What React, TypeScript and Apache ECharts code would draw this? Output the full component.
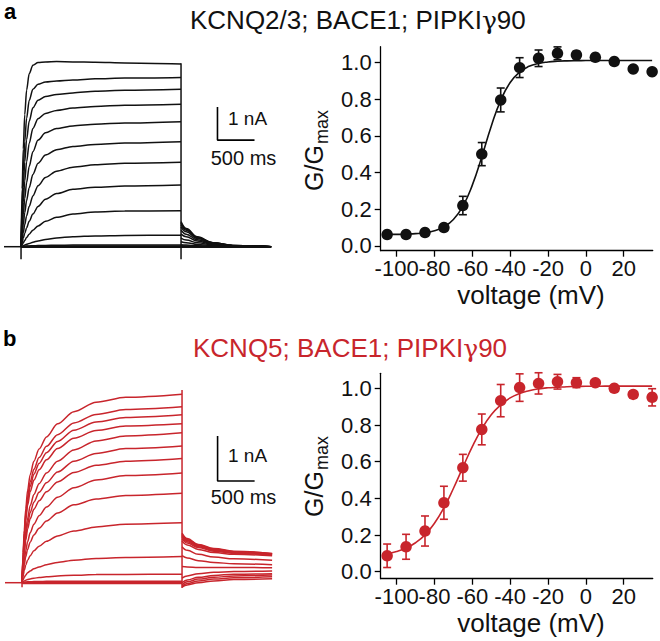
import React, { useEffect, useRef } from "react";
import * as echarts from "echarts";

const FONT = "'Liberation Sans', Arial, Helvetica, sans-serif";
const BLACK = "#111111";
const RED = "#c8252c";

// ---------- current traces (time in ms, current in nA) ----------
const preStepStartMs = -230;
const stepTimesMs = [0, 15, 30, 50, 75, 110, 160, 230, 330, 480, 700, 1000, 1400, 2160];
const tailTimesMs = [2160, 2230, 2380, 2590, 2860, 3376];

const kcnq23Step = [
  [0, 1.75, 2.96, 4.0, 4.74, 5.24, 5.5, 5.58, 5.6, 5.61, 5.6, 5.59, 5.57, 5.54],
  [0, 1.31, 2.28, 3.18, 3.89, 4.43, 4.77, 4.92, 4.99, 5.02, 5.05, 5.09, 5.11, 5.13],
  [0, 1.01, 1.8, 2.57, 3.24, 3.8, 4.21, 4.44, 4.55, 4.61, 4.66, 4.71, 4.74, 4.77],
  [0, 0.74, 1.35, 1.99, 2.57, 3.13, 3.58, 3.88, 4.04, 4.13, 4.2, 4.25, 4.29, 4.32],
  [0, 0.53, 0.97, 1.46, 1.94, 2.43, 2.88, 3.23, 3.45, 3.58, 3.66, 3.71, 3.75, 3.79],
  [0, 0.36, 0.67, 1.03, 1.4, 1.79, 2.19, 2.53, 2.78, 2.94, 3.04, 3.1, 3.14, 3.18],
  [0, 0.23, 0.43, 0.67, 0.93, 1.22, 1.54, 1.85, 2.1, 2.29, 2.41, 2.48, 2.53, 2.56],
  [0, 0.13, 0.26, 0.4, 0.57, 0.77, 0.99, 1.22, 1.44, 1.61, 1.74, 1.8, 1.84, 1.87],
  [0, 0.06, 0.12, 0.19, 0.28, 0.38, 0.5, 0.63, 0.77, 0.89, 0.99, 1.05, 1.08, 1.09],
  [0, 0.016, 0.031, 0.05, 0.072, 0.1, 0.135, 0.176, 0.22, 0.265, 0.303, 0.328, 0.342, 0.35],
  [0, 0.005, 0.01, 0.015, 0.02, 0.025, 0.03, 0.035, 0.04, 0.045, 0.05, 0.05, 0.05, 0.05],
  [0, 0, 0.005, 0.01, 0.01, 0.015, 0.015, 0.02, 0.02, 0.02, 0.02, 0.02, 0.02, 0.02],
  [0, 0, 0, 0, 0, 0, 0, 0, 0, 0, 0, 0, 0, 0],
  [0, -0.01, -0.01, -0.01, -0.01, -0.01, -0.01, -0.01, -0.01, -0.01, -0.01, -0.01, -0.01, -0.01],
  [0, -0.02, -0.02, -0.02, -0.02, -0.02, -0.02, -0.02, -0.02, -0.02, -0.02, -0.02, -0.02, -0.02],
];
const kcnq23Tail = [
  [0.76, 0.55, 0.3, 0.12, 0.04, 0.0],
  [0.72, 0.53, 0.29, 0.12, 0.04, 0.0],
  [0.67, 0.5, 0.27, 0.11, 0.04, 0.0],
  [0.6, 0.45, 0.25, 0.1, 0.03, 0.0],
  [0.5, 0.38, 0.21, 0.09, 0.03, 0.0],
  [0.38, 0.3, 0.17, 0.07, 0.02, 0.0],
  [0.26, 0.2, 0.12, 0.05, 0.02, 0.0],
  [0.15, 0.12, 0.07, 0.03, 0.01, 0.0],
  [0.06, 0.05, 0.03, 0.01, 0.0, 0.0],
  [0.02, 0.01, 0.01, 0.0, 0.0, 0.0],
  [0.02, 0.01, 0.0, 0.0, 0.0, 0.0],
  [0.01, 0.0, 0.0, 0.0, 0.0, 0.0],
  [0, 0, 0, 0, 0, 0],
  [-0.01, -0.01, 0, 0, 0, 0],
  [-0.02, -0.01, -0.01, 0, 0, 0],
];

const kcnq5Step = [
  [0, 0.67, 1.17, 1.64, 2.05, 2.4, 2.7, 2.97, 3.24, 3.53, 3.8, 4.01, 4.12, 4.19],
  [0, 0.62, 1.09, 1.53, 1.91, 2.24, 2.52, 2.78, 3.03, 3.29, 3.55, 3.74, 3.85, 3.91],
  [0, 0.59, 1.04, 1.46, 1.82, 2.14, 2.41, 2.65, 2.89, 3.14, 3.39, 3.57, 3.67, 3.73],
  [0, 0.56, 0.98, 1.38, 1.72, 2.02, 2.28, 2.51, 2.73, 2.98, 3.21, 3.38, 3.48, 3.53],
  [0, 0.45, 0.8, 1.14, 1.43, 1.71, 1.96, 2.2, 2.44, 2.7, 2.95, 3.15, 3.26, 3.33],
  [0, 0.41, 0.73, 1.04, 1.31, 1.56, 1.79, 2.01, 2.22, 2.46, 2.7, 2.87, 2.98, 3.04],
  [0, 0.38, 0.66, 0.94, 1.19, 1.42, 1.63, 1.82, 2.02, 2.24, 2.45, 2.61, 2.7, 2.76],
  [0, 0.27, 0.49, 0.71, 0.91, 1.11, 1.3, 1.49, 1.68, 1.9, 2.11, 2.28, 2.38, 2.44],
  [0, 0.22, 0.4, 0.58, 0.74, 0.9, 1.06, 1.21, 1.37, 1.55, 1.73, 1.86, 1.94, 1.99],
  [0, 0.15, 0.27, 0.39, 0.5, 0.6, 0.71, 0.81, 0.92, 1.04, 1.15, 1.24, 1.3, 1.33],
  [0, 0.065, 0.12, 0.17, 0.22, 0.26, 0.31, 0.35, 0.4, 0.45, 0.5, 0.54, 0.56, 0.58],
  [0, 0.02, 0.04, 0.055, 0.07, 0.085, 0.1, 0.115, 0.13, 0.15, 0.165, 0.18, 0.185, 0.19],
  [0, 0.005, 0.01, 0.015, 0.02, 0.02, 0.025, 0.025, 0.03, 0.03, 0.03, 0.03, 0.03, 0.03],
  [0, 0, 0.005, 0.01, 0.01, 0.01, 0.01, 0.01, 0.01, 0.01, 0.01, 0.01, 0.01, 0.01],
  [0, -0.02, -0.02, -0.02, -0.02, -0.02, -0.02, -0.02, -0.02, -0.02, -0.02, -0.02, -0.02, -0.02],
];
const kcnq5Tail = [
  [1.1, 0.98, 0.85, 0.76, 0.7, 0.65],
  [1.08, 0.96, 0.84, 0.75, 0.69, 0.645],
  [1.06, 0.95, 0.83, 0.74, 0.68, 0.64],
  [1.04, 0.93, 0.82, 0.73, 0.675, 0.635],
  [1.02, 0.91, 0.8, 0.72, 0.67, 0.63],
  [0.98, 0.88, 0.78, 0.7, 0.65, 0.615],
  [0.93, 0.84, 0.74, 0.67, 0.63, 0.6],
  [0.8, 0.72, 0.63, 0.57, 0.53, 0.5],
  [0.6, 0.55, 0.49, 0.45, 0.42, 0.4],
  [0.36, 0.35, 0.34, 0.34, 0.34, 0.33],
  [0.1, 0.15, 0.2, 0.23, 0.25, 0.26],
  [0.0, 0.06, 0.12, 0.16, 0.19, 0.2],
  [-0.05, 0.02, 0.08, 0.12, 0.15, 0.17],
  [-0.08, -0.02, 0.04, 0.08, 0.11, 0.13],
  [-0.1, -0.05, 0.0, 0.04, 0.07, 0.09],
];

// stimulus artefacts at step onset / offset [time, from nA, to nA]
const kcnq23Artefacts = [
  [0, -0.38, 0.25],
  [2160, -0.38, 5.56],
];
const kcnq5Artefacts = [
  [0, -0.1, 0.13],
  [2160, -0.12, 4.28],
];

// scale bars: 500 ms, 1 nA  (anchor time, anchor current)
const scaleBarMs = 500;
const scaleBarNa = 1;
const kcnq23ScaleAnchor = [2652, 3.23];
const kcnq5ScaleAnchor = [2640, 2.26];

// ---------- G/Gmax vs voltage ----------
const voltages = [-105, -95, -85, -75, -65, -55, -45, -35, -25, -15, -5, 5, 15, 25, 35];
const gvKcnq23 = [0.062, 0.062, 0.073, 0.1, 0.22, 0.5, 0.795, 0.971, 1.022, 1.049, 1.04, 1.027, 1.004, 0.964, 0.949];
const semKcnq23 = [0.008, 0.008, 0.01, 0.015, 0.05, 0.063, 0.065, 0.054, 0.045, 0.035, 0.02, 0.01, 0.008, 0.01, 0.01];
const gvKcnq5 = [0.087, 0.136, 0.222, 0.376, 0.567, 0.776, 0.933, 1.004, 1.027, 1.036, 1.031, 1.031, 1.0, 0.967, 0.951];
const semKcnq5 = [0.064, 0.068, 0.082, 0.09, 0.073, 0.084, 0.088, 0.075, 0.058, 0.04, 0.027, 0.01, 0.01, 0.018, 0.047];

// fitted Boltzmann curves, read every 5 mV
const fitVoltages = [
  -105, -100, -95, -90, -85, -80, -75, -70, -65, -60, -55, -50, -45, -40, -35,
  -30, -25, -20, -15, -10, -5, 0, 5, 10, 15, 20, 25, 30, 35,
];
const fitKcnq23 = [
  0.063, 0.063, 0.065, 0.067, 0.072, 0.083, 0.104, 0.144, 0.216, 0.331, 0.485, 0.652, 0.793, 0.89, 0.947,
  0.978, 0.994, 1.002, 1.006, 1.008, 1.009, 1.0095, 1.01, 1.01, 1.01, 1.01, 1.01, 1.01, 1.01,
];
const fitKcnq5 = [
  0.099, 0.11, 0.129, 0.158, 0.201, 0.264, 0.349, 0.454, 0.569, 0.682, 0.779, 0.856, 0.91, 0.948, 0.972,
  0.987, 0.997, 1.003, 1.006, 1.009, 1.01, 1.011, 1.011, 1.012, 1.012, 1.012, 1.012, 1.012, 1.012,
];

const voltageTicks = [-100, -80, -60, -40, -20, 0, 20];
const gTicks = [0, 0.2, 0.4, 0.6, 0.8, 1.0];

const titleA = ["KCNQ2/3; BACE1; PIPKI", "\u03b3", "90"];
const titleB = ["KCNQ5; BACE1; PIPKI", "\u03b3", "90"];

function traceSeries(stepRows: number[][], tailRows: number[][], artefacts: number[][], anchor: number[], idx: number, color: string) {
  const base = {
    type: "line",
    xAxisIndex: idx,
    yAxisIndex: idx,
    symbol: "none",
    silent: true,
    lineStyle: { color, width: 1.5 },
  };
  const out: any[] = [];
  out.push({ ...base, data: [[preStepStartMs, 0], [0, 0]] });
  stepRows.forEach((row) => {
    out.push({ ...base, smooth: 0.3, smoothMonotone: "x", data: stepTimesMs.map((t, i) => [t, row[i]]) });
  });
  tailRows.forEach((row) => {
    out.push({ ...base, smooth: 0.4, smoothMonotone: "x", data: tailTimesMs.map((t, i) => [t, row[i]]) });
  });
  artefacts.forEach((a) => {
    out.push({ ...base, data: [[a[0], a[1]], [a[0], a[2]]] });
  });
  out.push({
    ...base,
    lineStyle: { color: "#000", width: 1.6 },
    data: [
      [anchor[0], anchor[1] + scaleBarNa],
      [anchor[0], anchor[1]],
      [anchor[0] + scaleBarMs, anchor[1]],
    ],
  });
  return out;
}

function gvSeries(gv: number[], sem: number[], fit: number[], idx: number, color: string) {
  return [
    {
      type: "line",
      xAxisIndex: idx,
      yAxisIndex: idx,
      symbol: "none",
      smooth: true,
      z: 2,
      lineStyle: { color, width: 1.6 },
      data: fitVoltages.map((v, i) => [v, fit[i]]),
    },
    {
      type: "custom",
      xAxisIndex: idx,
      yAxisIndex: idx,
      z: 3,
      encode: { x: 0, y: [1, 2] },
      data: voltages.map((v, i) => [v, gv[i] - sem[i], gv[i] + sem[i]]),
      renderItem: (params: any, api: any) => {
        const x = api.value(0);
        const lo = api.coord([x, api.value(1)]);
        const hi = api.coord([x, api.value(2)]);
        const w = 4;
        const st = { stroke: color, lineWidth: 1.6 };
        return {
          type: "group",
          children: [
            { type: "line", shape: { x1: lo[0], y1: lo[1], x2: hi[0], y2: hi[1] }, style: st },
            { type: "line", shape: { x1: lo[0] - w, y1: lo[1], x2: lo[0] + w, y2: lo[1] }, style: st },
            { type: "line", shape: { x1: hi[0] - w, y1: hi[1], x2: hi[0] + w, y2: hi[1] }, style: st },
          ],
        };
      },
    },
    {
      type: "scatter",
      xAxisIndex: idx,
      yAxisIndex: idx,
      z: 4,
      symbolSize: 11.5,
      itemStyle: { color, opacity: 1 },
      data: voltages.map((v, i) => [v, gv[i]]),
    },
  ];
}

function gvXAxis(idx: number) {
  return {
    gridIndex: idx,
    type: "value",
    min: -108.4,
    max: 35.3,
    axisLine: { show: true, onZero: false, lineStyle: { color: "#000", width: 1.3 } },
    axisTick: { show: true, length: 6, customValues: voltageTicks, lineStyle: { color: "#000", width: 1.3 } },
    axisLabel: { customValues: voltageTicks, fontSize: 22, color: "#111", margin: 7, fontFamily: FONT },
    splitLine: { show: false },
  };
}

function gvYAxis(idx: number, min: number, max: number) {
  return {
    gridIndex: idx,
    type: "value",
    min,
    max,
    axisLine: { show: true, onZero: false, lineStyle: { color: "#000", width: 1.3 } },
    axisTick: { show: true, length: 6, customValues: gTicks, lineStyle: { color: "#000", width: 1.3 } },
    axisLabel: {
      customValues: gTicks,
      fontSize: 22,
      color: "#111",
      margin: 9,
      fontFamily: FONT,
      formatter: (v: number) => v.toFixed(1),
    },
    splitLine: { show: false },
  };
}

function hiddenAxis(idx: number, min: number, max: number) {
  return { gridIndex: idx, type: "value", min, max, show: false, splitLine: { show: false } };
}

function txt(x: number, y: number, text: string, size: number, color: string, align = "left", weight = "normal") {
  return {
    type: "text",
    x,
    y,
    silent: true,
    style: {
      text,
      fill: color,
      fontSize: size,
      fontWeight: weight,
      fontFamily: FONT,
      align,
      textAlign: align,
      verticalAlign: "middle",
      textVerticalAlign: "middle",
    },
  };
}

function title(x: number, y: number, parts: string[], size: number, color: string) {
  return {
    type: "text",
    x,
    y,
    silent: true,
    style: {
      text: `{n|${parts[0]}}{g|${parts[1]}}{n|${parts[2]}}`,
      align: "left",
      textAlign: "left",
      verticalAlign: "middle",
      textVerticalAlign: "middle",
      rich: {
        n: { fontSize: size, fontFamily: FONT, fill: color, color },
        g: { fontSize: size - 1, fontFamily: "'DejaVu Serif', serif", fill: color, color },
      },
    },
  };
}

function gLabel(x: number, y: number) {
  return {
    type: "group",
    x,
    y,
    rotation: Math.PI / 2,
    silent: true,
    children: [txt(-41, 0, "G/G", 25, "#111"), txt(6, 8, "max", 18, "#111")],
  };
}

export default function App() {
  const ref = useRef<HTMLDivElement>(null);
  useEffect(() => {
    if (!ref.current) return;
    const chart = echarts.init(ref.current, null, { renderer: "svg" });
    const option: any = {
      animation: false,
      backgroundColor: "#ffffff",
      textStyle: { fontFamily: FONT },
      grid: [
        { left: 4, top: 48.7, width: 267.4, height: 214.5 },
        { left: 380.7, top: 46.7, width: 272, height: 204 },
        { left: 5, top: 380.2, width: 267.4, height: 225 },
        { left: 380.7, top: 373.3, width: 272, height: 205.4 },
      ],
      xAxis: [hiddenAxis(0, -230, 3380), gvXAxis(1), hiddenAxis(2, -230, 3380), gvXAxis(3)],
      yAxis: [
        hiddenAxis(0, -0.5, 6.0),
        gvYAxis(1, -0.026, 1.085),
        hiddenAxis(2, -0.5, 4.5),
        gvYAxis(3, -0.038, 1.082),
      ],
      series: [
        ...traceSeries(kcnq23Step, kcnq23Tail, kcnq23Artefacts, kcnq23ScaleAnchor, 0, BLACK),
        ...traceSeries(kcnq5Step, kcnq5Tail, kcnq5Artefacts, kcnq5ScaleAnchor, 2, RED),
        ...gvSeries(gvKcnq23, semKcnq23, fitKcnq23, 1, BLACK),
        ...gvSeries(gvKcnq5, semKcnq5, fitKcnq5, 3, RED),
      ],
      graphic: [
        txt(4, 11, "a", 22, "#000", "left", "bold"),
        txt(3, 338, "b", 22, "#000", "left", "bold"),
        title(190, 20, titleA, 26, "#111"),
        title(193, 348, titleB, 26, RED),
        txt(228, 118, "1 nA", 19, "#111"),
        txt(243.5, 158, "500 ms", 20, "#111", "center"),
        txt(228, 455, "1 nA", 19, "#111"),
        txt(243.5, 497, "500 ms", 20, "#111", "center"),
        gLabel(313.5, 150),
        gLabel(313.5, 476),
        txt(531, 295, "voltage (mV)", 26, "#111", "center"),
        txt(531, 623, "voltage (mV)", 26, "#111", "center"),
      ],
    };
    chart.setOption(option);
    return () => chart.dispose();
  }, []);
  return (
    <div
      ref={ref}
      style={{ position: "absolute", left: 0, top: 0, width: 660, height: 641, background: "#fff" }}
    />
  );
}
